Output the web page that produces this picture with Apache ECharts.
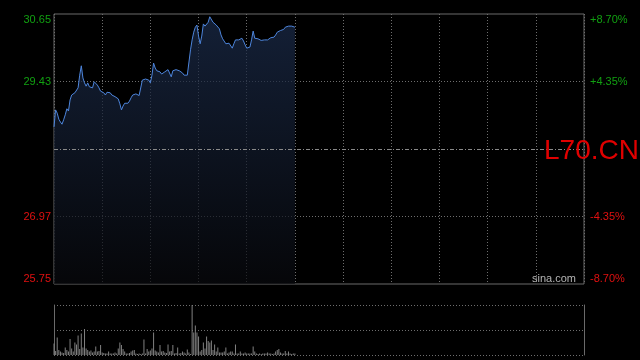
<!DOCTYPE html>
<html>
<head>
<meta charset="utf-8">
<script src="https://cdn.jsdelivr.net/npm/echarts@6/dist/echarts.min.js"></script>
<style>
html,body{margin:0;padding:0;background:#000;}
#c{width:640px;height:360px;}
</style>
</head>
<body>
<div id="c"></div>
<script>
// Minutes 0..330 (HK session 09:30-12:00, 13:00-16:00), one grid line each 30 min
var sessionMinutes = 330;
var prevClose = 28.20;
var priceMin = 25.75;
var priceMax = 30.65;
var priceLabels = ['25.75', '26.97', '', '29.43', '30.65'];
var pctLabels = ['-8.70%', '-4.35%', '', '+4.35%', '+8.70%'];

var prices = [
  28.60, 28.91, 28.85, 28.74, 28.69, 28.65, 28.73, 28.82, 28.93, 28.89,
  29.09, 29.18, 29.20, 29.22, 29.25, 29.31, 29.54, 29.71, 29.49, 29.40,
  29.34, 29.40, 29.33, 29.36, 29.31, 29.42, 29.43, 29.36, 29.31, 29.25,
  29.23, 29.22, 29.18, 29.23, 29.25, 29.22, 29.18, 29.16, 29.15, 29.15,
  29.11, 29.02, 28.91, 28.98, 29.03, 29.02, 29.03, 29.07, 29.13, 29.18,
  29.21, 29.20, 29.18, 29.17, 29.16, 29.45, 29.47, 29.47, 29.46, 29.45,
  29.40, 29.54, 29.76, 29.67, 29.62, 29.65, 29.60, 29.56, 29.58, 29.60,
  29.62, 29.64, 29.63, 29.51, 29.62, 29.63, 29.64, 29.61, 29.62, 29.60,
  29.58, 29.54, 29.52, 29.54, 29.53, 30.00, 30.18, 30.32, 30.41, 30.45,
  30.25, 30.11, 30.25, 30.47, 30.43, 30.45, 30.50, 30.60, 30.60, 30.50,
  30.47, 30.45, 30.42, 30.38, 30.27, 30.20, 30.23, 30.11, 30.14, 30.12,
  30.14, 30.03, 30.11, 30.18, 30.21, 30.18, 30.21, 30.21, 30.16, 30.09,
  30.03, 30.06, 30.05, 30.18, 30.34, 30.21, 30.21, 30.20, 30.18, 30.17,
  30.17, 30.18, 30.16, 30.18, 30.21, 30.22, 30.24, 30.23, 30.27, 30.32,
  30.34, 30.35, 30.36, 30.37, 30.41, 30.43, 30.43, 30.41, 30.43, 30.40,
  30.41
];

var volumes = [
  23, 8, 35, 10, 7, 5, 4, 15, 10, 7,
  32, 13, 7, 25, 21, 39, 12, 43, 15, 52,
  13, 10, 7, 9, 5, 7, 17, 7, 8, 20,
  5, 4, 3, 3, 7, 3, 3, 3, 5, 3,
  13, 25, 20, 12, 7, 3, 3, 4, 7, 9,
  10, 3, 2, 3, 2, 3, 31, 3, 12, 7,
  9, 13, 45, 9, 7, 5, 20, 7, 8, 5,
  4, 21, 7, 8, 20, 3, 4, 15, 3, 4,
  7, 5, 3, 11, 5, 2, 100, 45, 59, 45,
  37, 7, 10, 25, 13, 37, 28, 25, 29, 10,
  21, 7, 15, 5, 5, 5, 7, 15, 3, 5,
  7, 7, 3, 21, 3, 3, 7, 3, 3, 5,
  3, 3, 3, 3, 17, 7, 3, 2, 3, 2,
  3, 3, 3, 5, 3, 3, 2, 3, 7, 10,
  12, 5, 3, 3, 8, 3, 7, 3, 2, 3,
  3
];

var FONT = "'Liberation Sans', Arial, sans-serif";
var GREEN = '#11a011';
var RED = '#e01010';
var BORDER = '#6a6a6a';
var DOT = '#6e6e6e';

var priceData = prices.map(function (p, i) { return [i, p]; });
var volData = volumes.map(function (v, i) { return [i, v]; });
var volMax = Math.max.apply(null, volumes);

var chart = echarts.init(document.getElementById('c'), null, {renderer: 'canvas'});
chart.setOption({
  backgroundColor: '#000',
  animation: false,
  grid: [
    {left: 54, top: 14, width: 530, height: 270, show: true, borderColor: BORDER, borderWidth: 1, backgroundColor: 'transparent'},
    {left: 54, top: 305, width: 530, height: 50, show: false}
  ],
  xAxis: [
    {
      type: 'value', gridIndex: 0, min: 0, max: sessionMinutes, interval: 30,
      axisLine: {show: false}, axisTick: {show: false}, axisLabel: {show: false},
      splitLine: {show: true, lineStyle: {color: DOT, type: [1, 2], width: 1}}
    },
    {
      type: 'value', gridIndex: 1, min: 0, max: sessionMinutes, interval: 30,
      axisLine: {show: false}, axisTick: {show: false}, axisLabel: {show: false},
      splitLine: {show: false}
    }
  ],
  yAxis: [
    {
      type: 'value', gridIndex: 0, position: 'left', min: priceMin, max: priceMax, interval: 1.225,
      axisLine: {show: false}, axisTick: {show: false},
      axisLabel: {
        show: true, margin: 3, fontSize: 11, fontFamily: FONT,
        verticalAlignMinLabel: 'bottom', verticalAlignMaxLabel: 'top',
        formatter: function (v, idx) { return priceLabels[idx] || ''; },
        color: function (v) { return v > prevClose ? GREEN : RED; }
      },
      splitLine: {show: true, lineStyle: {color: ['transparent', DOT, 'transparent', DOT, 'transparent'], type: [1, 2], width: 1}}
    },
    {
      type: 'value', gridIndex: 0, position: 'right', min: priceMin, max: priceMax, interval: 1.225,
      axisLine: {show: false}, axisTick: {show: false},
      axisLabel: {
        show: true, margin: 6, fontSize: 11, fontFamily: FONT,
        verticalAlignMinLabel: 'bottom', verticalAlignMaxLabel: 'top',
        formatter: function (v, idx) { return pctLabels[idx] || ''; },
        color: function (v) { return v > prevClose ? GREEN : RED; }
      },
      splitLine: {show: false}
    },
    {
      type: 'value', gridIndex: 1, position: 'left', min: 0, max: volMax, interval: volMax / 2,
      axisLine: {show: true, lineStyle: {color: BORDER, width: 1}}, axisTick: {show: false}, axisLabel: {show: false},
      splitLine: {show: true, lineStyle: {color: DOT, type: [1, 2], width: 1}}
    },
    {
      type: 'value', gridIndex: 1, position: 'right', min: 0, max: volMax, interval: volMax / 2,
      axisLine: {show: true, lineStyle: {color: BORDER, width: 1}}, axisTick: {show: false}, axisLabel: {show: false},
      splitLine: {show: false}
    }
  ],
  series: [
    {
      type: 'line', xAxisIndex: 0, yAxisIndex: 0, data: priceData,
      showSymbol: false, symbol: 'none', silent: true,
      lineStyle: {color: '#4d85dc', width: 1},
      areaStyle: {
        origin: 'start',
        color: new echarts.graphic.LinearGradient(0, 0, 0, 1, [
          {offset: 0, color: '#1c2d4d'},
          {offset: 1, color: '#08090d'}
        ])
      },
      markLine: {
        silent: true, symbol: 'none', label: {show: false},
        lineStyle: {color: '#8a8a8a', type: [4, 2, 1, 2], width: 1},
        data: [{yAxis: prevClose}]
      },
      z: 3
    },
    {
      type: 'bar', xAxisIndex: 1, yAxisIndex: 2, data: volData,
      barWidth: 1, silent: true,
      itemStyle: {color: '#808080'}
    }
  ],
  graphic: [
    {type: 'text', left: 532, top: 273, z: 10, silent: true,
     style: {text: 'sina.com', fill: '#b4b4b4', font: "11px 'Liberation Sans', Arial, sans-serif"}},
    {type: 'text', left: 544, top: 137, z: 10, silent: true,
     style: {text: 'L70.CN', fill: '#e00000', font: "28px 'Liberation Sans', Arial, sans-serif"}}
  ]
});
</script>
</body>
</html>
